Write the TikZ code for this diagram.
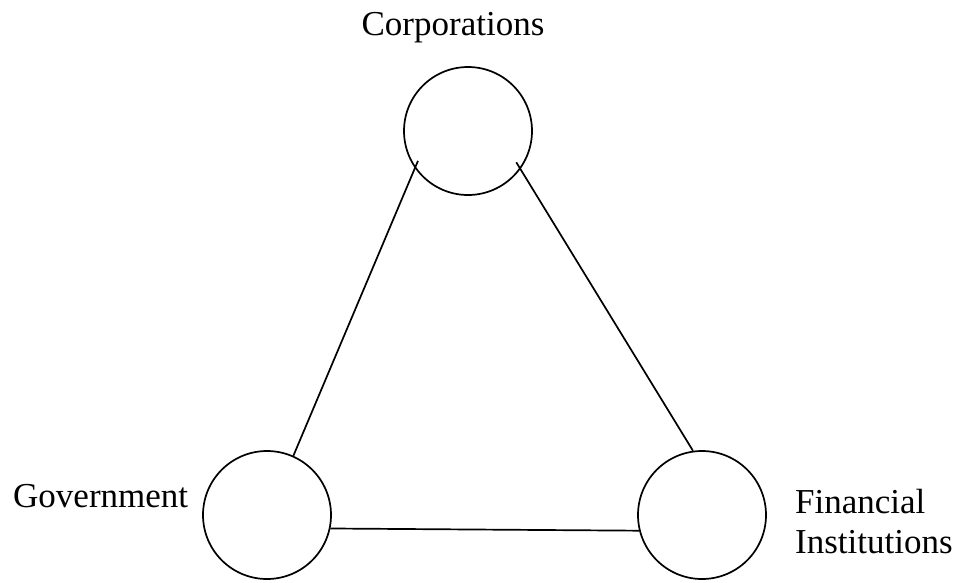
\documentclass[tikz,border=0pt]{standalone}
\usepackage{fontspec}
\setmainfont{Liberation Serif}
\begin{document}
\begin{tikzpicture}[x=1pt,y=-1pt,
  party/.style={circle,draw,line width=1.7pt,minimum size=128pt,inner sep=0pt},
  link/.style={line width=1.7pt},
  lbl/.style={font=\fontsize{35}{40}\selectfont,inner sep=0pt}]
\useasboundingbox (0,0) rectangle (961,582);
\node[party] (corp) at (468,131) {};
\node[party] (gov) at (267,515) {};
\node[party] (fin) at (702,515) {};
\node[lbl,anchor=base] (tcorp) at (453,35) {Corporations};
\node[lbl,anchor=base west] (tgov) at (13,507) {Government};
\node[lbl,anchor=base west,align=left] (tfin) at (795,553) {Financial\\Institutions};
\draw[link,shorten <=-8pt] (corp.215) -- (gov.66);
\draw[link,shorten <=-8pt] (corp.-36) -- (fin.98);
\draw[link] (gov.-12) -- (fin.194);
\end{tikzpicture}
\end{document}
